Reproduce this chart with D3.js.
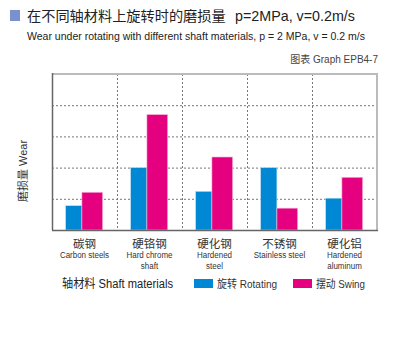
<!DOCTYPE html>
<html><head><meta charset="utf-8">
<script src="https://cdn.jsdelivr.net/npm/d3@7"></script>
<style>body{margin:0;background:#fff}svg{display:block}</style>
</head><body>
<script>
const categoriesCN = ["碳钢","硬铬钢","硬化钢","不锈钢","硬化铝"];
const categoriesEN = [["Carbon steels"],["Hard chrome","shaft"],["Hardened","steel"],["Stainless steel"],["Hardened","aluminum"]];
const rotating = [0.78, 2.0, 1.24, 2.0, 1.02];
const swing = [1.21, 3.7, 2.34, 0.7, 1.69];
const yTicks = [0,1,2,3,4,5];

const W=400,H=360;
const svg=d3.select("body").append("svg").attr("width",W).attr("height",H);
const cn="'Liberation Sans','Noto Sans CJK SC',sans-serif";
const en="'Liberation Sans',Arial,sans-serif";
const L=52,R=377,T=74,B=230;
const x=d3.scaleBand().domain(d3.range(categoriesCN.length)).range([L,R]).padding(0);
const y=d3.scaleLinear().domain([0,5]).range([B,T]);
const bw=x.bandwidth();

// title
svg.append("rect").attr("x",10).attr("y",10).attr("width",10).attr("height",11).attr("fill","#7b91cf");
const tt=svg.append("text").attr("x",27).attr("y",21).attr("font-family",cn).attr("fill","#222");
tt.append("tspan").attr("font-size",14.2).text("在不同轴材料上旋转时的磨损量");
tt.append("tspan").attr("x",235).attr("font-size",14.3).text("p=2MPa, v=0.2m/s");
svg.append("text").attr("x",27).attr("y",40).attr("font-family",en).attr("font-size",11.5).attr("fill","#222")
  .attr("textLength",338).attr("lengthAdjust","spacingAndGlyphs")
  .text("Wear under rotating with different shaft materials, p = 2 MPa, v = 0.2 m/s");
svg.append("text").attr("x",378).attr("y",63).attr("text-anchor","end").attr("font-family",cn).attr("font-size",10).attr("fill","#444")
  .text("图表 Graph EPB4-7");

// grid
const g=svg.append("g");
g.selectAll(".hg").data(yTicks.slice(1,5)).join("line")
  .attr("x1",L).attr("x2",R).attr("y1",d=>y(d)+0.5).attr("y2",d=>y(d)+0.5)
  .attr("stroke","#777").attr("stroke-dasharray","2,2").attr("stroke-width",1);
g.selectAll(".vg").data(d3.range(1,categoriesCN.length)).join("line")
  .attr("x1",d=>x(d)+0.5).attr("x2",d=>x(d)+0.5).attr("y1",T).attr("y2",B)
  .attr("stroke","#777").attr("stroke-dasharray","2,2").attr("stroke-width",1);

// bars
const blue="#0088d4", pink="#e4007f";
svg.selectAll(".b1").data(rotating).join("rect")
  .attr("x",(d,i)=>x(i)+bw*0.21).attr("width",bw*0.25)
  .attr("y",d=>y(d)).attr("height",d=>B-y(d)).attr("fill",blue)
  .attr("stroke","#bfe0f3").attr("stroke-width",0.6);
svg.selectAll(".b2").data(swing).join("rect")
  .attr("x",(d,i)=>x(i)+bw*0.46).attr("width",bw*0.32)
  .attr("y",d=>y(d)).attr("height",d=>B-y(d)).attr("fill",pink)
  .attr("stroke","#f6bcdc").attr("stroke-width",0.6);

// frame
svg.append("line").attr("x1",L).attr("x2",R+1).attr("y1",T).attr("y2",T).attr("stroke","#bbb").attr("stroke-width",2);
svg.append("line").attr("x1",R).attr("x2",R).attr("y1",T).attr("y2",B).attr("stroke","#bbb").attr("stroke-width",2);
svg.append("line").attr("x1",L+0.5).attr("x2",L+0.5).attr("y1",T-1).attr("y2",B).attr("stroke","#666").attr("stroke-width",1.5);
svg.append("line").attr("x1",L).attr("x2",R+1).attr("y1",B+0.5).attr("y2",B+0.5).attr("stroke","#666").attr("stroke-width",1.5);

// category labels
categoriesCN.forEach((c,i)=>{
  const cx=x(i)+bw/2;
  svg.append("text").attr("x",cx).attr("y",248).attr("text-anchor","middle").attr("font-family",cn).attr("font-size",11.5).attr("fill","#333").text(c);
  categoriesEN[i].forEach((s,j)=>{
    svg.append("text").attr("x",cx).attr("y",258+j*11).attr("text-anchor","middle").attr("font-family",en).attr("font-size",9.5)
      .attr("fill","#333").attr("transform",`translate(${cx},0) scale(0.84,1) translate(${-cx},0)`).text(s);
  });
});

// y label
svg.append("text").attr("transform","translate(27,171) rotate(-90)").attr("text-anchor","middle")
  .attr("font-family",cn).attr("font-size",11).attr("fill","#333").text("磨损量 Wear");

// legend
svg.append("text").attr("x",62).attr("y",288).attr("font-family",cn).attr("font-size",12.5).attr("fill","#222")
  .attr("textLength",111).attr("lengthAdjust","spacingAndGlyphs").text("轴材料 Shaft materials");
svg.append("rect").attr("x",194).attr("y",279).attr("width",19).attr("height",9).attr("fill",blue);
svg.append("text").attr("x",217).attr("y",288).attr("font-family",cn).attr("font-size",11).attr("fill","#333")
  .attr("textLength",60).attr("lengthAdjust","spacingAndGlyphs").text("旋转 Rotating");
svg.append("rect").attr("x",293).attr("y",279).attr("width",19).attr("height",9).attr("fill",pink);
svg.append("text").attr("x",316).attr("y",288).attr("font-family",cn).attr("font-size",11).attr("fill","#333")
  .attr("textLength",49).attr("lengthAdjust","spacingAndGlyphs").text("摆动 Swing");
</script>
</body></html>
